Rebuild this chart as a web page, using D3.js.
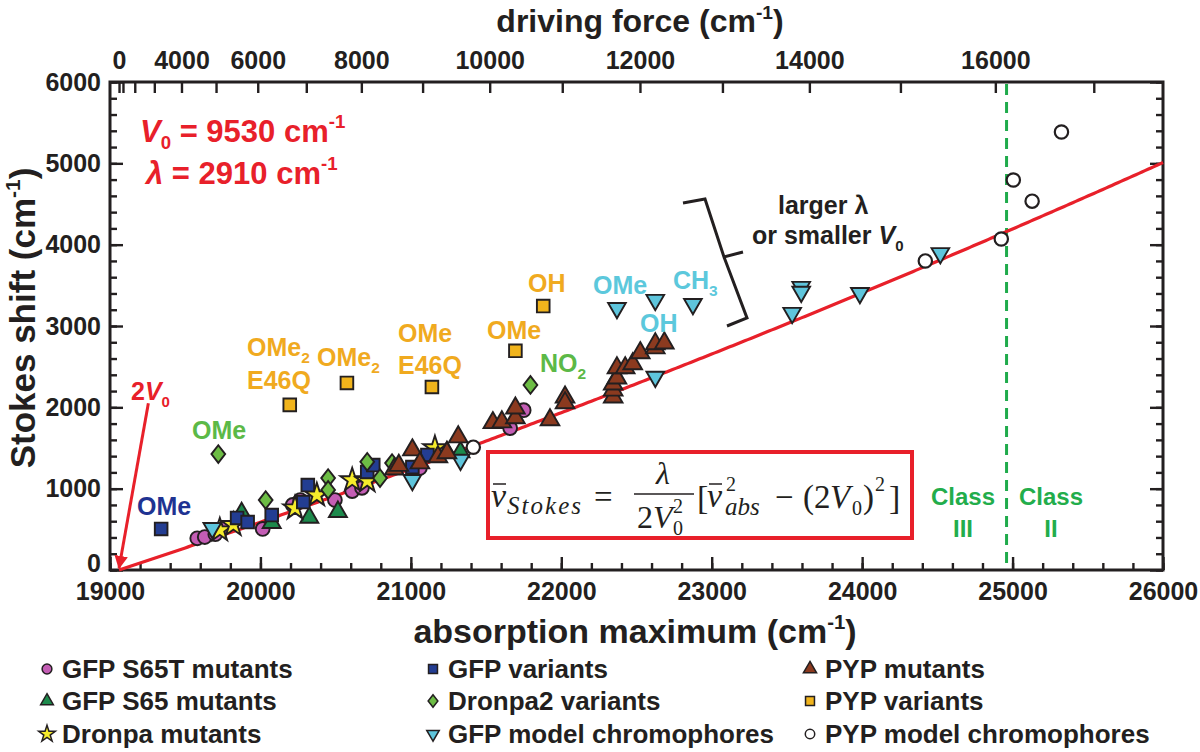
<!DOCTYPE html>
<html><head><meta charset="utf-8">
<script src="https://cdn.jsdelivr.net/npm/d3@7"></script>
<style>
body{margin:0;background:#fff}
svg{display:block;font-family:"Liberation Sans",Arial,Helvetica,sans-serif}
</style>
</head><body>
<svg id="c" width="1200" height="752"></svg>
<script>
// ---------- parameters & data ----------
const V0 = 9530, LAMBDA = 2910;
const classBoundary = 24960;
const xTickValues = [19000,20000,21000,22000,23000,24000,25000,26000];
const yTickValues = [0,1000,2000,3000,4000,5000,6000];
const dfTickValues = [0,1000,2000,3000,4000,5000,6000,7000,8000,9000,10000,11000,12000,13000,14000,15000,16000,17000];
const dfTickLabels = [0,4000,6000,8000,10000,12000,14000,16000];

const gfpS65T = [[19580,390],[19630,405],[19700,440],[19745,515],[20015,505],[20215,800],[20265,860],[20495,860],[20610,970],[20675,1010],[21060,1255],[21660,1745],[21750,1965]];
const gfpS65 = [[19875,700],[20075,580],[20325,645],[20515,715],[21240,1450],[21330,1450]];
const dronpa = [[19730,490],[19820,555],[20230,760],[20375,920],[20610,1105],[20710,1095],[21160,1500]];
const gfpVariants = [[19340,505],[19845,640],[19915,590],[20075,675],[20285,835],[20315,1045],[20710,1205],[20750,1290],[21010,1265],[21110,1415]];
const dronpa2 = [[19720,1425],[20035,860],[20450,1130],[20450,985],[20710,1330],[20795,1130],[20875,1315],[21795,2275]];
const gfpModel = [[19680,515],[21010,1105],[21330,1355],[22370,3220],[22625,3320],[22875,3270],[22625,2375],[23535,3160],[23595,3480],[23595,3420],[23985,3405],[24520,3895]];
const pypMutants = [[20890,1240],[20920,1285],[21010,1475],[21060,1315],[21180,1390],[21240,1440],[21315,1635],[21545,1810],[21605,1820],[21695,1870],[21695,1990],[21925,1845],[22025,2125],[22025,2055],[22345,2125],[22345,2210],[22345,2285],[22370,2360],[22370,2485],[22425,2485],[22475,2535],[22525,2670],[22625,2730],[22625,2780],[22685,2790]];
const pypVariants = [[20195,2030],[20575,2300],[21140,2250],[21695,2695],[21880,3245]];
const pypModel = [[21415,1510],[24420,3800],[24925,4070],[25005,4795],[25130,4535],[25325,5385]];

const arrowFrom = [19255,2050];

// ---------- setup ----------
const svg = d3.select("#c");
const x = d3.scaleLinear().domain([19000,26000]).range([110,1163]);
const y = d3.scaleLinear().domain([0,6000]).range([570,82]);
const INK = "#231f20", RED = "#e8202a";

// driving-force scale (top axis)
function dfScale(d){ return x(Math.sqrt(d*d + (2*V0)*(2*V0))); }
dfScale.copy = () => dfScale;
dfScale.range = () => x.range();
dfScale.domain = () => [0,17000];

function styleAxis(g, fs){
  g.select(".domain").remove();
  g.selectAll(".tick line").attr("stroke",INK).attr("stroke-width",2.4);
  g.selectAll(".tick text").attr("fill",INK).attr("font-size",fs).attr("font-weight","bold").attr("font-family","Liberation Sans, Arial, sans-serif");
}

// bottom
svg.append("g").attr("transform","translate(0,570)")
  .call(d3.axisBottom(x).tickValues(d3.range(19000,26001,200)).tickSize(-7).tickFormat(""))
  .call(g=>styleAxis(g,25));
svg.append("g").attr("transform","translate(0,570)")
  .call(d3.axisBottom(x).tickValues(xTickValues).tickSize(-13).tickPadding(12).tickFormat(d3.format("d")))
  .call(g=>styleAxis(g,25));
// left
svg.append("g").attr("transform","translate(110,0)")
  .call(d3.axisLeft(y).tickValues(d3.range(0,6001,200)).tickSize(-7).tickFormat(""))
  .call(g=>styleAxis(g,25));
svg.append("g").attr("transform","translate(110,0)")
  .call(d3.axisLeft(y).tickValues(yTickValues).tickSize(-13).tickPadding(9).tickFormat(d3.format("d")))
  .call(g=>styleAxis(g,25))
  .call(g=>g.selectAll(".tick text").filter(d=>d===0).attr("dy","0.05em"));
// right
svg.append("g").attr("transform","translate(1163,0)")
  .call(d3.axisRight(y).tickValues(d3.range(0,6001,200)).tickSize(-7).tickFormat(""))
  .call(g=>styleAxis(g,25));
svg.append("g").attr("transform","translate(1163,0)")
  .call(d3.axisRight(y).tickValues(yTickValues).tickSize(-13).tickFormat(""))
  .call(g=>styleAxis(g,25));
// top (driving force)
svg.append("g").attr("transform","translate(0,82)")
  .call(d3.axisTop(dfScale).tickValues(dfTickValues).tickSize(-11).tickPadding(13)
     .tickFormat(d => dfTickLabels.includes(d) ? String(d) : ""))
  .call(g=>styleAxis(g,25));

// frame
svg.append("rect").attr("x",110).attr("y",82).attr("width",1053).attr("height",488)
  .attr("fill","none").attr("stroke",INK).attr("stroke-width",3);

// axis titles
function titleWithSup(sel, main){
  sel.append("tspan").text(main);
  sel.append("tspan").attr("font-size","0.6em").attr("dy","-0.7em").text("-1");
  sel.append("tspan").attr("dy","0.42em").text(")");
}
svg.append("text").attr("x",640).attr("y",32).attr("text-anchor","middle")
  .attr("font-size",32).attr("font-weight","bold").attr("fill",INK)
  .call(s=>titleWithSup(s,"driving force (cm"));
svg.append("text").attr("x",635).attr("y",643).attr("text-anchor","middle")
  .attr("font-size",34).attr("font-weight","bold").attr("fill",INK)
  .call(s=>titleWithSup(s,"absorption maximum (cm"));
svg.append("text").attr("transform","translate(35,318) rotate(-90)").attr("text-anchor","middle")
  .attr("font-size",35).attr("font-weight","bold").attr("fill",INK)
  .call(s=>titleWithSup(s,"Stokes shift (cm"));

// class boundary
svg.append("line").attr("x1",x(classBoundary)).attr("x2",x(classBoundary)).attr("y1",y(6000)+2).attr("y2",y(0))
  .attr("stroke","#1fab4b").attr("stroke-width",3).attr("stroke-dasharray","11,7");

// fit curve from V0, lambda
const fitX = d3.range(2*V0, 26001, 20);
const fitLine = d3.line().x(d=>x(d)).y(d=>y(LAMBDA/(2*V0*V0)*(d*d-(2*V0)*(2*V0))));
svg.append("path").datum(fitX).attr("d",fitLine).attr("fill","none").attr("stroke",RED).attr("stroke-width",3.2);

// 2V0 arrow
const defs = svg.append("defs");
defs.append("marker").attr("id","ah").attr("viewBox","0 0 10 10").attr("refX",9).attr("refY",5)
  .attr("markerWidth",4.5).attr("markerHeight",4.5).attr("orient","auto")
  .append("path").attr("d","M0,0 L10,5 L0,10 Z").attr("fill",RED);
svg.append("line").attr("x1",x(arrowFrom[0])).attr("y1",y(arrowFrom[1])).attr("x2",x(2*V0)).attr("y2",y(0)-2)
  .attr("stroke",RED).attr("stroke-width",3).attr("marker-end","url(#ah)");

// ---------- markers ----------
const diamond = {draw(ctx,size){const h=Math.sqrt(size)*0.72,w=h*0.78;ctx.moveTo(0,-h);ctx.lineTo(w,0);ctx.lineTo(0,h);ctx.lineTo(-w,0);ctx.closePath();}};
const series = [
  {name:"GFP S65T mutants", data:gfpS65T, type:d3.symbolCircle, size:150, fill:"#c45db5"},
  {name:"GFP S65 mutants", data:gfpS65, type:d3.symbolTriangle, size:140, fill:"#1d8a4c"},
  {name:"Dronpa mutants", data:dronpa, type:d3.symbolStar, size:170, fill:"#f6ec2b"},
  {name:"GFP variants", data:gfpVariants, type:d3.symbolSquare, size:160, fill:"#233d92"},
  {name:"Dronpa2 variants", data:dronpa2, type:diamond, size:150, fill:"#6dbd45"},
  {name:"GFP model chromophores", data:gfpModel, type:d3.symbolTriangle, size:135, fill:"#5ec5dc", rot:180},
  {name:"PYP mutants", data:pypMutants, type:d3.symbolTriangle, size:150, fill:"#8b3a1f"},
  {name:"PYP variants", data:pypVariants, type:d3.symbolSquare, size:160, fill:"#f1b41c"},
  {name:"PYP model chromophores", data:pypModel, type:d3.symbolCircle, size:140, fill:"#ffffff", sw:2.2}
];
const plot = svg.append("g");
series.forEach(s=>{
  plot.append("g").selectAll("path").data(s.data).join("path")
    .attr("d", d3.symbol().type(s.type).size(s.size))
    .attr("transform", d=>`translate(${x(d[0])},${y(d[1])})${s.rot?" rotate("+s.rot+")":""}`)
    .attr("fill", s.fill).attr("stroke", INK).attr("stroke-width", s.sw||1.9).attr("stroke-linejoin","miter");
});

// ---------- annotations ----------
function lab(txt, px, py, color, sub, fs){
  const t = svg.append("text").attr("x",px).attr("y",py).attr("fill",color)
    .attr("font-size",fs||25).attr("font-weight","bold");
  t.append("tspan").text(txt);
  if(sub){ t.append("tspan").attr("font-size","0.62em").attr("dy","0.45em").text(sub); }
  return t;
}
const NAVY="#1f3392", GRN="#5cb947", ORG="#f0aa1f", LBL="#5cc8dc";
lab("OMe",137,515,NAVY);
lab("OMe",192,439,GRN);
lab("OMe",247,356,ORG,"2");
lab("E46Q",247,389,ORG);
lab("OMe",317,366,ORG,"2");
lab("OMe",398,342,ORG);
lab("E46Q",398,374,ORG);
lab("OMe",487,339,ORG);
lab("OH",528,292,ORG);
lab("NO",540,372,GRN,"2");
lab("OMe",593,294,LBL);
lab("OH",640,332,LBL);
lab("CH",673,289,LBL,"3");
lab("larger λ",778,214,INK);
{
  const t = svg.append("text").attr("x",752).attr("y",244).attr("fill",INK).attr("font-size",25).attr("font-weight","bold");
  t.append("tspan").text("or smaller ");
  t.append("tspan").attr("font-style","italic").text("V");
  t.append("tspan").attr("font-size","0.6em").attr("dy","0.45em").text("0");
}
// class labels
[["Class",963,505],["III",963,537],["Class",1051,505],["II",1051,537]].forEach(d=>{
  svg.append("text").attr("x",d[1]).attr("y",d[2]).attr("text-anchor","middle").attr("fill","#22ad4b")
    .attr("font-size",24).attr("font-weight","bold").text(d[0]);
});
// bracket
svg.append("path").attr("d","M683,203 L705,199 L724,257 L743,252 M724,257 L747,318 L727,326")
  .attr("fill","none").attr("stroke",INK).attr("stroke-width",3).attr("stroke-linejoin","miter");

// V0 / lambda parameters
{
  const t = svg.append("text").attr("x",140).attr("y",142).attr("fill",RED).attr("font-size",31).attr("font-weight","bold");
  t.append("tspan").attr("font-style","italic").text("V");
  t.append("tspan").attr("font-size","0.6em").attr("dy","0.4em").text("0");
  t.append("tspan").attr("dy","-0.25em").text(" = " + V0 + " cm");
  t.append("tspan").attr("font-size","0.6em").attr("dy","-0.75em").text("-1");
  const u = svg.append("text").attr("x",146).attr("y",184).attr("fill",RED).attr("font-size",31).attr("font-weight","bold");
  u.append("tspan").attr("font-style","italic").text("λ");
  u.append("tspan").text(" = " + LAMBDA + " cm");
  u.append("tspan").attr("font-size","0.6em").attr("dy","-0.75em").text("-1");
  const v = svg.append("text").attr("x",131).attr("y",400).attr("fill",RED).attr("font-size",25).attr("font-weight","bold");
  v.append("tspan").text("2");
  v.append("tspan").attr("font-style","italic").text("V");
  v.append("tspan").attr("font-size","0.6em").attr("dy","0.45em").text("0");
}

// formula box
svg.append("rect").attr("x",488).attr("y",452).attr("width",424).attr("height",86)
  .attr("fill","#fff").attr("stroke",RED).attr("stroke-width",4);
const F = svg.append("g").attr("font-family","Liberation Serif, Times New Roman, serif").attr("fill",INK);
function ft(txt,px,py,fs,ital){ return F.append("text").attr("x",px).attr("y",py).attr("font-size",fs).attr("font-style",ital?"italic":"normal").text(txt); }
ft("ν",491,507,34,true); F.append("line").attr("x1",493).attr("x2",506).attr("y1",484).attr("y2",484).attr("stroke",INK).attr("stroke-width",1.5);
ft("Stokes",507,514,25,true).attr("textLength",74).attr("lengthAdjust","spacing");
ft("=",594,508,33,false);
ft("λ",656,484,32,true);
F.append("line").attr("x1",634).attr("x2",694).attr("y1",494).attr("y2",494).attr("stroke",INK).attr("stroke-width",1.5);
ft("2",637,528,32,false); ft("V",653,528,32,true); ft("0",673,535,20,false); ft("2",673,513,20,false);
ft("[",697,509,34,false);
ft("ν",707,507,34,true); F.append("line").attr("x1",709).attr("x2",722).attr("y1",484).attr("y2",484).attr("stroke",INK).attr("stroke-width",1.5);
ft("2",726,491,20,false); ft("abs",725,515,25,true);
ft("−",775,508,33,false);
ft("(",803,508,33,false); ft("2",814,508,33,false); ft("V",830,508,33,true); ft("0",852,515,20,false);
ft(")",863,508,33,false); ft("2",875,491,20,false); ft("]",889,509,34,false);

// ---------- legend ----------
const legPos = [[47,669],[47,701],[47,734],[433,669],[433,701],[433,734],[810,669],[810,701],[810,734]];
series.forEach((s,i)=>{
  const [lx,ly] = legPos[i];
  svg.append("path").attr("d", d3.symbol().type(s.type).size(s.size*0.5))
    .attr("transform",`translate(${lx},${ly})${s.rot?" rotate("+s.rot+")":""}`)
    .attr("fill",s.fill).attr("stroke",INK).attr("stroke-width",1.5);
  svg.append("text").attr("x",lx+15).attr("y",ly+9).attr("fill",INK).attr("font-size",26).attr("font-weight","bold").text(s.name);
});
</script>
</body></html>
